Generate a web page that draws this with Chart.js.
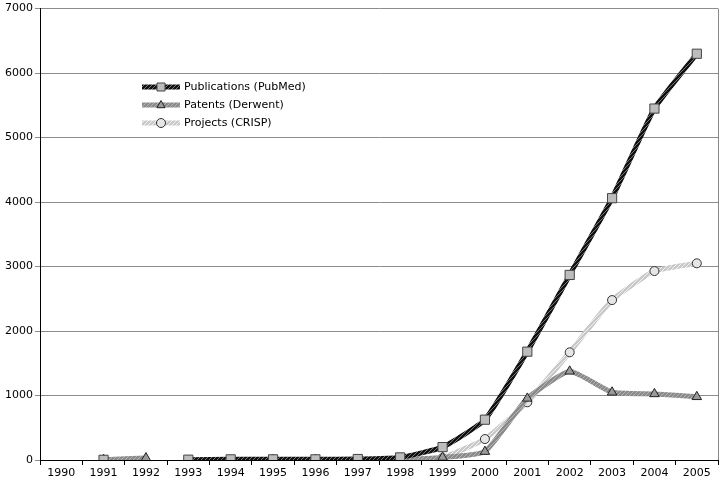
<!DOCTYPE html>
<html>
<head>
<meta charset="utf-8">
<script src="https://cdn.jsdelivr.net/npm/chart.js@4.4.0/dist/chart.umd.min.js"></script>
<style>
  html, body { margin: 0; padding: 0; background: #fff; }
  #wrap { width: 728px; height: 485px; }
</style>
</head>
<body>
<div id="wrap"><canvas id="myChart" width="728" height="485"></canvas></div>
<script>
// data
var years = ['1990','1991','1992','1993','1994','1995','1996','1997','1998','1999','2000','2001','2002','2003','2004','2005'];
var publications = [null, 3, null, 5, 10, 10, 10, 15, 40, 200, 625, 1680, 2870, 4060, 5450, 6300];
var patents = [null, 5, 30, null, null, 5, 5, 5, 10, 40, 130, 955, 1375, 1050, 1025, 980];
var projects = [null, null, null, null, null, null, null, null, null, 30, 325, 895, 1670, 2480, 2930, 3050];
var seriesNames = ['Publications (PubMed)', 'Patents (Derwent)', 'Projects (CRISP)'];
var yTicks = [0, 1000, 2000, 3000, 4000, 5000, 6000, 7000];

var ctx = document.getElementById('myChart').getContext('2d');
var fontFam = '"DejaVu Sans", Verdana, sans-serif';

// little checker texture like the excel print
function texture(c1, c2) {
    var p = document.createElement('canvas');
    p.width = 4; p.height = 4;
    var g = p.getContext('2d');
    g.fillStyle = c1; g.fillRect(0, 0, 4, 4);
    g.fillStyle = c2;
    g.fillRect(0, 0, 1, 1); g.fillRect(2, 2, 1, 1);
    g.fillRect(1, 3, 1, 1); g.fillRect(3, 1, 1, 1);
    return ctx.createPattern(p, 'repeat');
}
var pubLine = texture('#111', '#777');
var patLine = texture('#8a8a8a', '#b5b5b5');
var prjLine = texture('#c8c8c8', '#f2f2f2');

var frame = {
    id: 'frame',
    afterDraw: function(chart) {
        var a = chart.chartArea, c = chart.ctx;
        c.save();
        c.strokeStyle = '#888';
        c.lineWidth = 1;
        c.beginPath();
        c.moveTo(a.right + 0.5, a.top);
        c.lineTo(a.right + 0.5, a.bottom);
        c.stroke();
        c.restore();
    }
};

function marker(c, style, x, y, r) {
    c.beginPath();
    if (style === 'rect') {
        c.rect(x - r, y - r, r * 2, r * 2);
    } else if (style === 'triangle') {
        c.moveTo(x, y - r); c.lineTo(x + r * 0.9, y + r * 0.6); c.lineTo(x - r * 0.9, y + r * 0.6); c.closePath();
    } else {
        c.arc(x, y, r, 0, Math.PI * 2);
    }
    c.fill(); c.stroke();
}

var legendBox = {
    id: 'legendBox',
    afterDraw: function(chart) {
        var c = chart.ctx;
        c.save();
        c.font = '11px ' + fontFam;
        c.textBaseline = 'middle';
        chart.data.datasets.forEach(function(ds, i) {
            var y = 87 + i * 18;
            c.strokeStyle = ds.borderColor;
            c.lineWidth = ds.borderWidth;
            c.beginPath();
            c.moveTo(142, y); c.lineTo(180, y);
            c.stroke();
            c.fillStyle = ds.pointBackgroundColor;
            c.strokeStyle = ds.pointBorderColor;
            c.lineWidth = 1;
            marker(c, ds.pointStyle, 161, y, ds.pointStyle === 'rect' ? 4 : 4.5);
            c.fillStyle = '#000';
            c.fillText(seriesNames[i], 184, y);
        });
        c.restore();
    }
};

var myChart = new Chart(ctx, {
    type: 'line',
    data: {
        labels: years,
        datasets: [{
            label: seriesNames[0],
            data: publications,
            borderColor: pubLine,
            borderWidth: 5,
            pointStyle: 'rect',
            pointRadius: 6.5,
            pointBackgroundColor: '#bdbdbd',
            pointBorderColor: '#444',
            pointBorderWidth: 1,
            tension: 0.15
        }, {
            label: seriesNames[1],
            data: patents,
            borderColor: patLine,
            borderWidth: 5,
            pointStyle: 'triangle',
            pointRadius: 5.5,
            pointBackgroundColor: '#9a9a9a',
            pointBorderColor: '#222',
            pointBorderWidth: 1,
            tension: 0.15
        }, {
            label: seriesNames[2],
            data: projects,
            borderColor: prjLine,
            borderWidth: 5,
            pointStyle: 'circle',
            pointRadius: 4.5,
            pointBackgroundColor: '#e6e6e6',
            pointBorderColor: '#333',
            pointBorderWidth: 1,
            tension: 0.15
        }]
    },
    options: {
        responsive: false,
        animation: false,
        spanGaps: false,
        layout: { padding: { top: 8, right: 10, left: 0, bottom: 0 } },
        plugins: {
            legend: { display: false },
            tooltip: { enabled: false }
        },
        scales: {
            x: {
                offset: true,
                grid: { offset: true, drawOnChartArea: false, color: '#000', tickLength: 5 },
                border: { color: '#000', width: 1 },
                ticks: {
                    color: '#000',
                    maxRotation: 0,
                    autoSkip: false,
                    padding: 2,
                    font: { family: fontFam, size: 11 }
                },
                afterFit: function(s) { s.height = 25; }
            },
            y: {
                min: 0,
                max: 7000,
                afterBuildTicks: function(s) { s.ticks = yTicks.map(function(v) { return { value: v }; }); },
                grid: { color: '#8c8c8c', tickLength: 5 },
                border: { color: '#000', width: 1 },
                ticks: {
                    color: '#000',
                    padding: 2,
                    font: { family: fontFam, size: 11 },
                    callback: function(v) { return String(v); }
                },
                afterFit: function(s) { s.width = 40; }
            }
        }
    },
    plugins: [frame, legendBox]
});
</script>
</body>
</html>
